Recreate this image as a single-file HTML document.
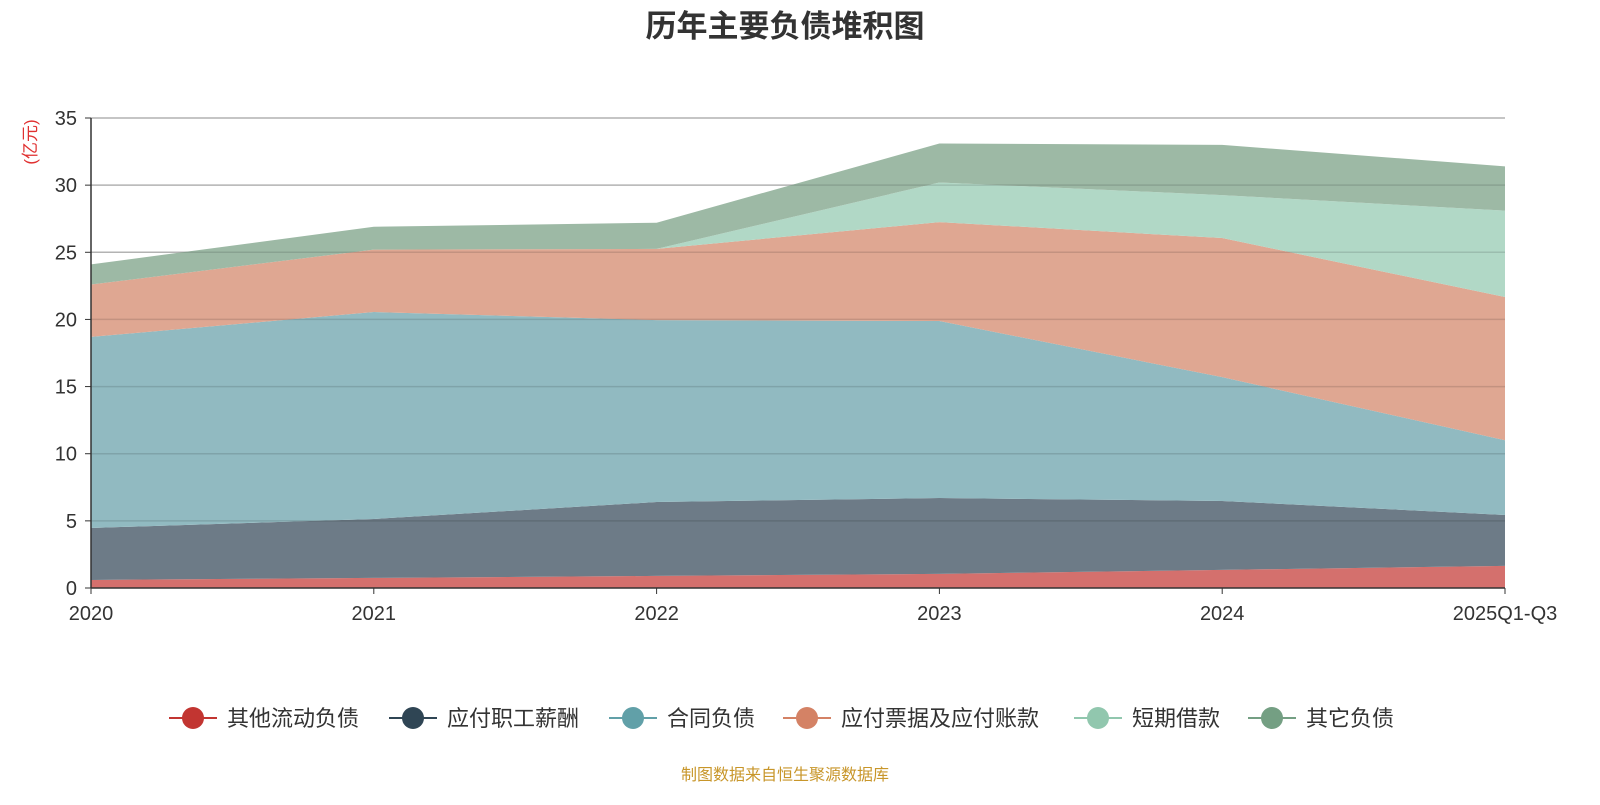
<!DOCTYPE html>
<html><head><meta charset="utf-8"><style>
body{margin:0;background:#fff;width:1600px;height:800px;overflow:hidden;font-family:"Liberation Sans","Noto Sans CJK SC",sans-serif}
</style></head><body>
<svg id="chart" width="1600" height="800" xmlns="http://www.w3.org/2000/svg" font-family="Liberation Sans, Noto Sans CJK SC, sans-serif">
<text x="785" y="37" text-anchor="middle" font-size="31" font-weight="bold" fill="#333">历年主要负债堆积图</text>
<text transform="translate(36,142) rotate(-90)" text-anchor="middle" font-size="17" fill="#e03030">(亿元)</text>
<g id="grid"></g><g id="areas"></g><g id="axes"></g><g id="legend"></g>
<text x="785" y="780" text-anchor="middle" font-size="16" fill="#c8962a">制图数据来自恒生聚源数据库</text>
</svg>
<script>
const categories=["2020","2021","2022","2023","2024","2025Q1-Q3"];
const seriesNames=["其他流动负债","应付职工薪酬","合同负债","应付票据及应付账款","短期借款","其它负债"];
const s1=[0.6,0.75,0.9,1.05,1.35,1.65];
const s2=[3.87,4.39,5.5,5.65,5.13,3.79];
const s3=[14.23,15.41,13.55,13.18,9.22,5.56];
const s4=[3.9,4.65,5.3,7.37,10.36,10.67];
const s5=[0,0,0,2.95,3.2,6.43];
const s6=[1.5,1.7,1.95,2.9,3.74,3.3];
const yTicks=[0,5,10,15,20,25,30,35];
const series=[s1,s2,s3,s4,s5,s6];
const fills=["#d4706d","#6d7b87","#91bac1","#dfa792","#b1d8c6","#9db9a5"];
const lcol=["#c23531","#2f4554","#61a0a8","#d48265","#91c7ae","#749f83"];
const NS="http://www.w3.org/2000/svg";
const X0=91,X1=1505,Y0=588,Y1=118;
const x=i=>X0+(X1-X0)*i/(categories.length-1);
const y=v=>Y0-(Y0-Y1)*v/35;
function mk(t,a,p){const e=document.createElementNS(NS,t);for(const k in a)e.setAttribute(k,a[k]);p.appendChild(e);return e;}
const grid=document.getElementById('grid'),areas=document.getElementById('areas'),axes=document.getElementById('axes'),leg=document.getElementById('legend');
yTicks.forEach(t=>{
 if(t>0){const l=mk('line',{x1:X0,x2:X1,y1:y(t),y2:y(t),stroke:'#ccc','stroke-width':1.5},grid);
 
 }
 const tx=mk('text',{x:X0-14,y:y(t)+7,'text-anchor':'end','font-size':20,fill:'#333'},axes);tx.textContent=t;
 
 
 mk('line',{x1:X0-6,x2:X0,y1:y(t),y2:y(t),stroke:'#333'},axes);
});
let cum=categories.map(()=>0);
series.forEach((s,k)=>{
 const top=cum.map((c,i)=>c+s[i]);
 let d='';top.forEach((v,i)=>d+=(i?'L':'M')+x(i)+','+y(v));
 for(let i=categories.length-1;i>=0;i--)d+='L'+x(i)+','+y(cum[i]);
 const p=mk('path',{d:d+'Z',fill:fills[k],stroke:'none'},areas);
 
 
 cum=top;
});
// redraw grid over areas faintly
yTicks.forEach(t=>{if(t>0)mk('line',{x1:X0,x2:X1,y1:y(t),y2:y(t),stroke:'rgba(0,0,0,0.12)','stroke-width':1.5},areas);});
mk('line',{x1:X0,x2:X0,y1:Y1,y2:Y0,stroke:'#333','stroke-width':1.5},axes);
mk('line',{x1:X0,x2:X1,y1:Y0,y2:Y0,stroke:'#333','stroke-width':1.5},axes);
categories.forEach((c,i)=>{
 mk('line',{x1:x(i),x2:x(i),y1:Y0,y2:Y0+6,stroke:'#333'},axes);
 const tx=mk('text',{x:x(i),y:Y0+32,'text-anchor':'middle','font-size':20,fill:'#333'},axes);tx.textContent=c;
 
 
});
const lx=[169,389,609,783,1074,1248];
seriesNames.forEach((n,k)=>{
 const g=mk('g',{},leg);
 
 
 mk('line',{x1:lx[k],x2:lx[k]+48,y1:718,y2:718,stroke:lcol[k],'stroke-width':2},g);
 mk('circle',{cx:lx[k]+24,cy:718,r:11,fill:lcol[k]},g);
 const t=mk('text',{x:lx[k]+58,y:726,'font-size':22,fill:'#333'},g);t.textContent=n;
});
</script>
</body></html>
